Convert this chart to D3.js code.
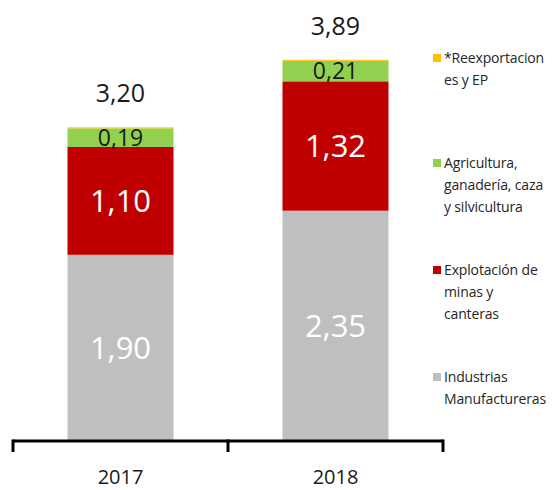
<!DOCTYPE html>
<html>
<head>
<meta charset="utf-8">
<script src="https://cdn.jsdelivr.net/npm/d3@7"></script>
<style>
  body { margin: 0; background: #fff; }
  svg { display: block; font-family: 'Open Sans', sans-serif; }
</style>
</head>
<body>
<div id="chart"></div>
<script>
// data
var years = ['2017', '2018']
var industrias = [1.90, 2.35]
var explotacion = [1.10, 1.32]
var agricultura = [0.19, 0.21]
var reexportaciones = [0.01, 0.01]
var totals = [3.20, 3.89]

var seriesKeys = ['industrias', 'explotacion', 'agricultura', 'reexportaciones']
var seriesColors = ['#bfbfbf', '#c00000', '#92d050', '#ffc000']
var legendLabels = [
  ['*Reexportacion', 'es y EP'],
  ['Agricultura,', 'ganadería, caza', 'y silvicultura'],
  ['Explotación de', 'minas y', 'canteras'],
  ['Industrias', 'Manufactureras']
]

var width = 553
var height = 490
var axisY = 441

var svg = d3.select('#chart')
  .append('svg')
  .attr('width', width)
  .attr('height', height)

var rows = years.map(function(y, i) {
  return {
    year: y,
    industrias: industrias[i],
    explotacion: explotacion[i],
    agricultura: agricultura[i],
    reexportaciones: reexportaciones[i],
    total: totals[i]
  }
})

var stacked = d3.stack().keys(seriesKeys)(rows)

// scales
var xPositionScale = d3.scaleBand()
  .domain(years)
  .range([13, 443])
  .paddingInner(0)
  .paddingOuter(0)

var barWidth = 106

var yPositionScale = d3.scaleLinear()
  .domain([0, 4.5])
  .range([axisY, 0])

var fmt = function(v) {
  return d3.format('.2f')(v).replace('.', ',')
}

// bars
var layers = svg.selectAll('.layer')
  .data(stacked)
  .enter()
  .append('g')
  .attr('class', 'layer')
  .attr('fill', function(d, i) { return seriesColors[i] })

layers.selectAll('rect')
  .data(function(d) { return d })
  .enter()
  .append('rect')
  .attr('x', function(d) {
    return xPositionScale(d.data.year) + (xPositionScale.bandwidth() - barWidth) / 2
  })
  .attr('width', barWidth)
  .attr('y', function(d) { return yPositionScale(d[1]) })
  .attr('height', function(d) { return yPositionScale(d[0]) - yPositionScale(d[1]) })

// segment labels (skip the tiny reexport one)
var labelStyle = {
  industrias: { size: 31, color: '#ffffff' },
  explotacion: { size: 31, color: '#ffffff' },
  agricultura: { size: 23, color: '#1a1a1a' }
}

stacked.forEach(function(layer) {
  var style = labelStyle[layer.key]
  if (!style) return
  svg.selectAll('.label-' + layer.key)
    .data(layer)
    .enter()
    .append('text')
    .attr('class', 'label-' + layer.key)
    .attr('x', function(d) { return xPositionScale(d.data.year) + xPositionScale.bandwidth() / 2 })
    .attr('y', function(d) { return (yPositionScale(d[0]) + yPositionScale(d[1])) / 2 })
    .attr('dy', '0.36em')
    .attr('text-anchor', 'middle')
    .attr('font-size', style.size + 'px')
    .attr('fill', style.color)
    .text(function(d) { return fmt(d.data[layer.key]) })
})

// totals above bars
svg.selectAll('.total')
  .data(rows)
  .enter()
  .append('text')
  .attr('class', 'total')
  .attr('x', function(d) { return xPositionScale(d.year) + xPositionScale.bandwidth() / 2 })
  .attr('y', function(d) { return yPositionScale(d.total) - 34 })
  .attr('dy', '0.36em')
  .attr('text-anchor', 'middle')
  .attr('font-size', '25px')
  .attr('fill', '#1a1a1a')
  .text(function(d) { return fmt(d.total) })

// x axis: bracket style with ticks between categories
var xAxis = d3.axisBottom(xPositionScale)
  .tickSize(0)
  .tickPadding(29)

var axisG = svg.append('g')
  .attr('class', 'axis x-axis')
  .attr('transform', 'translate(0,' + axisY + ')')
  .call(xAxis)

axisG.select('.domain').remove()
axisG.selectAll('text')
  .attr('font-size', '20px')
  .attr('font-family', "'Open Sans', sans-serif")
  .attr('fill', '#1a1a1a')

var r = xPositionScale.range()
axisG.append('line')
  .attr('x1', r[0])
  .attr('x2', r[1])
  .attr('y1', 0)
  .attr('y2', 0)
  .attr('stroke', '#000')
  .attr('stroke-width', 3)

var boundaries = [r[0]].concat(years.map(function(y) { return xPositionScale(y) + xPositionScale.bandwidth() }))
axisG.selectAll('.bracket-tick')
  .data(boundaries)
  .enter()
  .append('line')
  .attr('class', 'bracket-tick')
  .attr('x1', function(d) { return d })
  .attr('x2', function(d) { return d })
  .attr('y1', -1.5)
  .attr('y2', 11)
  .attr('stroke', '#000')
  .attr('stroke-width', 3)

// legend
var legendTops = [58, 163, 270, 377]
var legend = svg.selectAll('.legend-item')
  .data(legendLabels)
  .enter()
  .append('g')
  .attr('class', 'legend-item')
  .attr('transform', function(d, i) { return 'translate(433,' + legendTops[i] + ')' })

legend.append('rect')
  .attr('x', 0)
  .attr('y', -4)
  .attr('width', 8)
  .attr('height', 8)
  .attr('fill', function(d, i) { return seriesColors[seriesColors.length - 1 - i] })

legend.each(function(lines) {
  var g = d3.select(this)
  lines.forEach(function(line, j) {
    g.append('text')
      .attr('x', 11)
      .attr('y', j * 22)
      .attr('dy', '0.35em')
      .attr('font-size', '14px')
      .attr('fill', '#262626')
      .attr('letter-spacing', '-0.15px')
      .text(line)
  })
})
</script>
</body>
</html>
